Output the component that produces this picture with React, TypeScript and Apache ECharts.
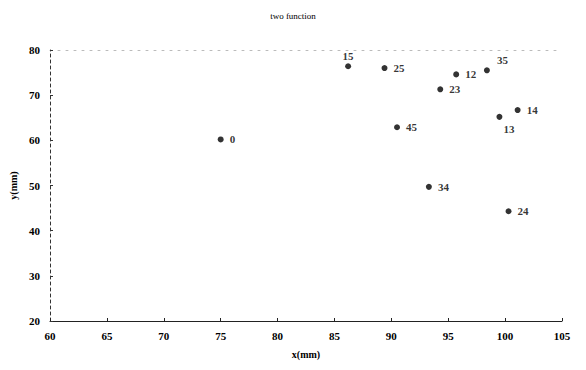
import React, { useEffect, useRef } from "react";
import * as echarts from "echarts";

const pointNames = ["0", "15", "25", "12", "35", "23", "14", "13", "45", "34", "24"];
const xValues = [75.0, 86.2, 89.4, 95.7, 98.4, 94.3, 101.1, 99.5, 90.5, 93.3, 100.3];
const yValues = [60.2, 76.4, 76.0, 74.6, 75.5, 71.3, 66.7, 65.2, 62.9, 49.7, 44.3];
const labelPositions = ["right", "top", "right", "right", "topRight", "right", "right", "bottomRight", "right", "right", "right"];

const xTicks = [60, 65, 70, 75, 80, 85, 90, 95, 100, 105];
const yTicks = [20, 30, 40, 50, 60, 70, 80];

const FONT = "'Liberation Serif', 'DejaVu Serif', serif";

export default function App() {
  const ref = useRef<HTMLDivElement>(null);
  useEffect(() => {
    if (!ref.current) return;
    const chart = echarts.init(ref.current, null, { renderer: "svg" });
    const data = pointNames.map((n, i) => {
      const pos = labelPositions[i];
      let label: any = { position: "right", distance: 6 };
      if (pos === "top") label = { position: "top", distance: 2 };
      if (pos === "topRight") label = { position: "right", offset: [2, -10] };
      if (pos === "bottomRight") label = { position: "right", offset: [-4, 12] };
      return { value: [xValues[i], yValues[i]], name: n, label };
    });
    chart.setOption({
      animation: false,
      backgroundColor: "#ffffff",
      title: {
        text: "two function",
        left: "center",
        top: 6,
        textStyle: { fontFamily: FONT, fontSize: 9, fontWeight: "normal", color: "#000" },
      },
      grid: { left: 50, right: 24, top: 50, bottom: 49, containLabel: false },
      xAxis: [
        {
          type: "value",
          min: xTicks[0],
          max: xTicks[xTicks.length - 1],
          interval: 5,
          name: "x(mm)",
          nameLocation: "middle",
          nameGap: 28,
          nameTextStyle: { fontFamily: FONT, fontSize: 10, fontWeight: "bold", color: "#000" },
          axisLine: { show: true, lineStyle: { color: "#222", width: 1 } },
          axisTick: { show: true, inside: true, length: 3, lineStyle: { color: "#222" } },
          axisLabel: { fontFamily: FONT, fontSize: 11, fontWeight: "bold", color: "#000", margin: 9 },
          splitLine: { show: false },
        },
        {
          type: "value",
          position: "top",
          min: xTicks[0],
          max: xTicks[xTicks.length - 1],
          interval: 5,
          axisLine: { show: true, lineStyle: { color: "#bbb", width: 1, type: [2, 6] } },
          axisTick: { show: false },
          axisLabel: { show: false },
          splitLine: { show: false },
        },
      ],
      yAxis: {
        type: "value",
        min: yTicks[0],
        max: yTicks[yTicks.length - 1],
        interval: 10,
        name: "y(mm)",
        nameLocation: "middle",
        nameGap: 30,
        nameTextStyle: { fontFamily: FONT, fontSize: 10, fontWeight: "bold", color: "#000" },
        axisLine: { show: true, lineStyle: { color: "#333", width: 1, type: [3, 3] } },
        axisTick: { show: true, inside: true, length: 3, lineStyle: { color: "#333" } },
        axisLabel: { fontFamily: FONT, fontSize: 11, fontWeight: "bold", color: "#000", margin: 10 },
        splitLine: { show: false },
      },
      series: [
        {
          type: "scatter",
          xAxisIndex: 0,
          symbol: "circle",
          symbolSize: 6,
          itemStyle: { color: "#000" },
          label: {
            show: true,
            formatter: "{b}",
            fontFamily: FONT,
            fontSize: 11,
            fontWeight: "bold",
            color: "#000",
          },
          data,
        },
      ],
    });
    return () => chart.dispose();
  }, []);
  return (
    <div
      ref={ref}
      style={{ position: "fixed", left: 0, top: 0, width: 586, height: 370 }}
    />
  );
}
